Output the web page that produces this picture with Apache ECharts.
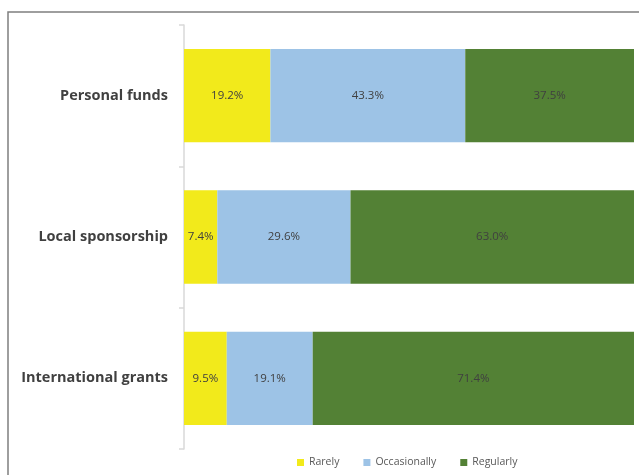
<!DOCTYPE html>
<html>
<head>
<meta charset="utf-8">
<title>Funding sources</title>
<script src="https://cdn.jsdelivr.net/npm/echarts@6/dist/echarts.min.js"></script>
<style>
  html, body { margin: 0; padding: 0; background: #ffffff; }
  #chart { width: 639px; height: 475px; }
</style>
</head>
<body>
<div id="chart"></div>
<script>
// Funding sources and how often each is used (% of respondents)
const categories = ['Personal funds', 'Local sponsorship', 'International grants'];
const rarely = [19.2, 7.4, 9.5];
const occasionally = [43.3, 29.6, 19.1];
const regularly = [37.5, 63.0, 71.4];

const seriesNames = ['Rarely', 'Occasionally', 'Regularly'];
const seriesColors = ['#F2EA1B', '#9DC3E6', '#538135'];
const seriesData = [rarely, occasionally, regularly];

const chart = echarts.init(document.getElementById('chart'), null, { renderer: 'canvas' });

const labelFont = '"Open Sans", "Noto Sans", sans-serif';

const series = seriesNames.map((name, i) => ({
  name: name,
  type: 'bar',
  stack: 'total',
  barCategoryGap: '34%',
  data: seriesData[i],
  itemStyle: { color: seriesColors[i] },
  label: {
    show: true,
    position: 'inside',
    color: '#404040',
    fontSize: 11.5,
    fontFamily: labelFont,
    formatter: p => p.value.toFixed(1) + '%'
  },
  emphasis: { disabled: true }
}));

chart.setOption({
  animation: false,
  backgroundColor: '#ffffff',
  graphic: [{
    type: 'rect',
    shape: { x: 8, y: 12, width: 700, height: 500 },
    style: { fill: 'none', stroke: '#7f7f7f', lineWidth: 1.5 },
    silent: true,
    z: -1
  }],
  grid: { left: 184, right: 5, top: 25, bottom: 26, containLabel: false },
  legend: {
    data: seriesNames,
    left: 292,
    top: 452,
    itemWidth: 7,
    itemHeight: 7,
    itemGap: 24,
    icon: 'rect',
    textStyle: { color: '#595959', fontSize: 10.5, fontFamily: labelFont }
  },
  xAxis: {
    type: 'value',
    min: 0,
    max: 100,
    show: false
  },
  yAxis: {
    type: 'category',
    data: categories,
    inverse: true,
    axisLine: { show: true, lineStyle: { color: '#d9d9d9', width: 1.5 } },
    axisTick: { show: true, length: 5, lineStyle: { color: '#d9d9d9', width: 1.5 } },
    axisLabel: {
      margin: 16,
      color: '#404040',
      fontSize: 14.5,
      fontWeight: 'bold',
      fontFamily: labelFont
    },
    splitLine: { show: false }
  },
  series: series
});
</script>
</body>
</html>
